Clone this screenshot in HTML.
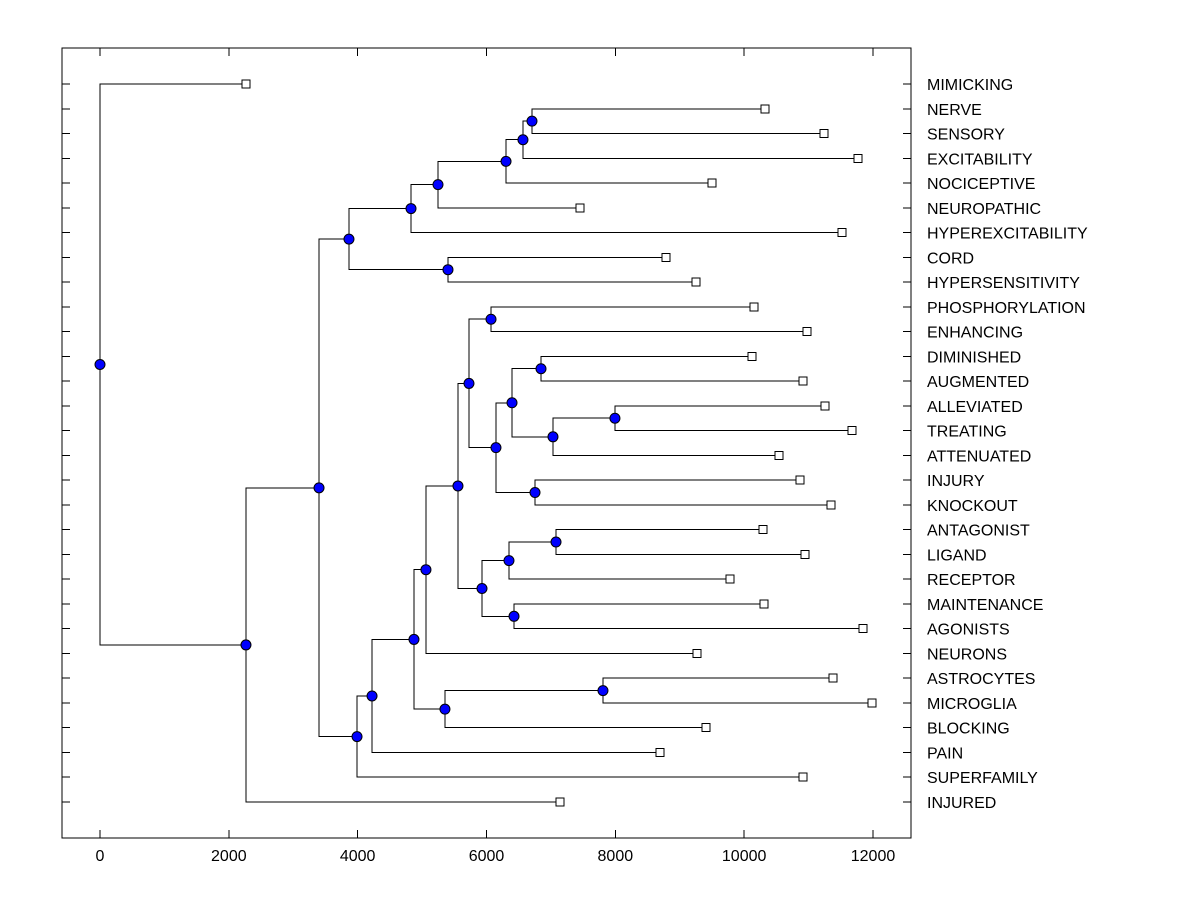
<!DOCTYPE html>
<html><head><meta charset="utf-8"><style>
body{margin:0;background:#fff}
svg text{font-family:"Liberation Sans",Arial,sans-serif;font-size:16px;fill:#000}
line,polyline,rect{shape-rendering:crispEdges}
</style></head><body>
<svg id="chart" width="1200" height="900" viewBox="0 0 1200 900" xmlns="http://www.w3.org/2000/svg">
<rect x="0" y="0" width="1200" height="900" fill="#fff"/>
<rect x="62" y="48" width="849" height="790" fill="none" stroke="#000"/>
<g id="g"></g>
</svg>
<script>
const leaves=["MIMICKING","NERVE","SENSORY","EXCITABILITY","NOCICEPTIVE","NEUROPATHIC","HYPEREXCITABILITY","CORD","HYPERSENSITIVITY","PHOSPHORYLATION","ENHANCING","DIMINISHED","AUGMENTED","ALLEVIATED","TREATING","ATTENUATED","INJURY","KNOCKOUT","ANTAGONIST","LIGAND","RECEPTOR","MAINTENANCE","AGONISTS","NEURONS","ASTROCYTES","MICROGLIA","BLOCKING","PAIN","SUPERFAMILY","INJURED"];
const leafHeights=[2266,10323,11239,11767,9500,7451,11518,8786,9252,10152,10975,10121,10913,11254,11673,10540,10866,11347,10292,10944,9780,10307,11844,9267,11378,11984,9407,8693,10913,7141];
const nodeNames=["J","I","H","G","E","F","C","R","V","X","W","T","U","S","P","AA","Y","Z","Q","O","M","BB","N","L","K","D","B","A","ROOT"];
const nodeHeights=[6706,6566,6303,5247,4828,5402,3865,6070,6846,7994,7032,6396,6753,6147,5728,7079,6349,6427,5930,5557,5060,7808,5355,4874,4223,3990,3400,2266,0];
const nodeChildren=[["NERVE","SENSORY"],["J","EXCITABILITY"],["I","NOCICEPTIVE"],["H","NEUROPATHIC"],["G","HYPEREXCITABILITY"],["CORD","HYPERSENSITIVITY"],["E","F"],["PHOSPHORYLATION","ENHANCING"],["DIMINISHED","AUGMENTED"],["ALLEVIATED","TREATING"],["X","ATTENUATED"],["V","W"],["INJURY","KNOCKOUT"],["T","U"],["R","S"],["ANTAGONIST","LIGAND"],["AA","RECEPTOR"],["MAINTENANCE","AGONISTS"],["Y","Z"],["P","Q"],["O","NEURONS"],["ASTROCYTES","MICROGLIA"],["BB","BLOCKING"],["M","N"],["L","PAIN"],["K","SUPERFAMILY"],["C","D"],["B","INJURED"],["MIMICKING","A"]];
const xTicks=[0,2000,4000,6000,8000,10000,12000];

const NS="http://www.w3.org/2000/svg",g=document.getElementById("g");
const X=v=>100+v*773/12000;
const leafY=i=>84+i*(802-84)/(leaves.length-1);
function mk(t,a){const e=document.createElementNS(NS,t);for(const k in a)e.setAttribute(k,a[k]);g.appendChild(e);return e;}
const pos={};
leaves.forEach((n,i)=>{pos[n]={x:X(leafHeights[i]),y:leafY(i)};});
nodeNames.forEach((n,i)=>{const [a,b]=nodeChildren[i];pos[n]={x:X(nodeHeights[i]),y:(pos[a].y+pos[b].y)/2};});
leaves.forEach((n,i)=>{const y=leafY(i);
 let t=mk("line",{x1:62,x2:70,y1:y,y2:y,stroke:"#000"});
 
 
 t=mk("line",{x1:903,x2:911,y1:y,y2:y,stroke:"#000"});
 
 
 const l=mk("text",{x:927,y:y+6});l.textContent=n;
 
 
});
xTicks.forEach(v=>{const x=X(v);
 let t=mk("line",{x1:x,x2:x,y1:830,y2:838,stroke:"#000"});
 
 
 t=mk("line",{x1:x,x2:x,y1:48,y2:56,stroke:"#000"});
 
 
 const l=mk("text",{x:x,y:861,"text-anchor":"middle"});l.textContent=v;
 
 
});
nodeNames.forEach((n,i)=>{const p=pos[n];nodeChildren[i].forEach(c=>{const q=pos[c];
 const e=mk("polyline",{points:`${p.x},${p.y} ${p.x},${q.y} ${q.x},${q.y}`,fill:"none",stroke:"#000"});
 
 
});});
leaves.forEach(n=>{const p=pos[n];
 const e=mk("rect",{x:p.x-4,y:p.y-4,width:8,height:8,fill:"#fff",stroke:"#000"});
 
 
});
nodeNames.forEach(n=>{const p=pos[n];
 const e=mk("circle",{cx:p.x,cy:p.y,r:5,fill:"#0000ff",stroke:"#000"});
 
 
});
</script>
</body></html>
